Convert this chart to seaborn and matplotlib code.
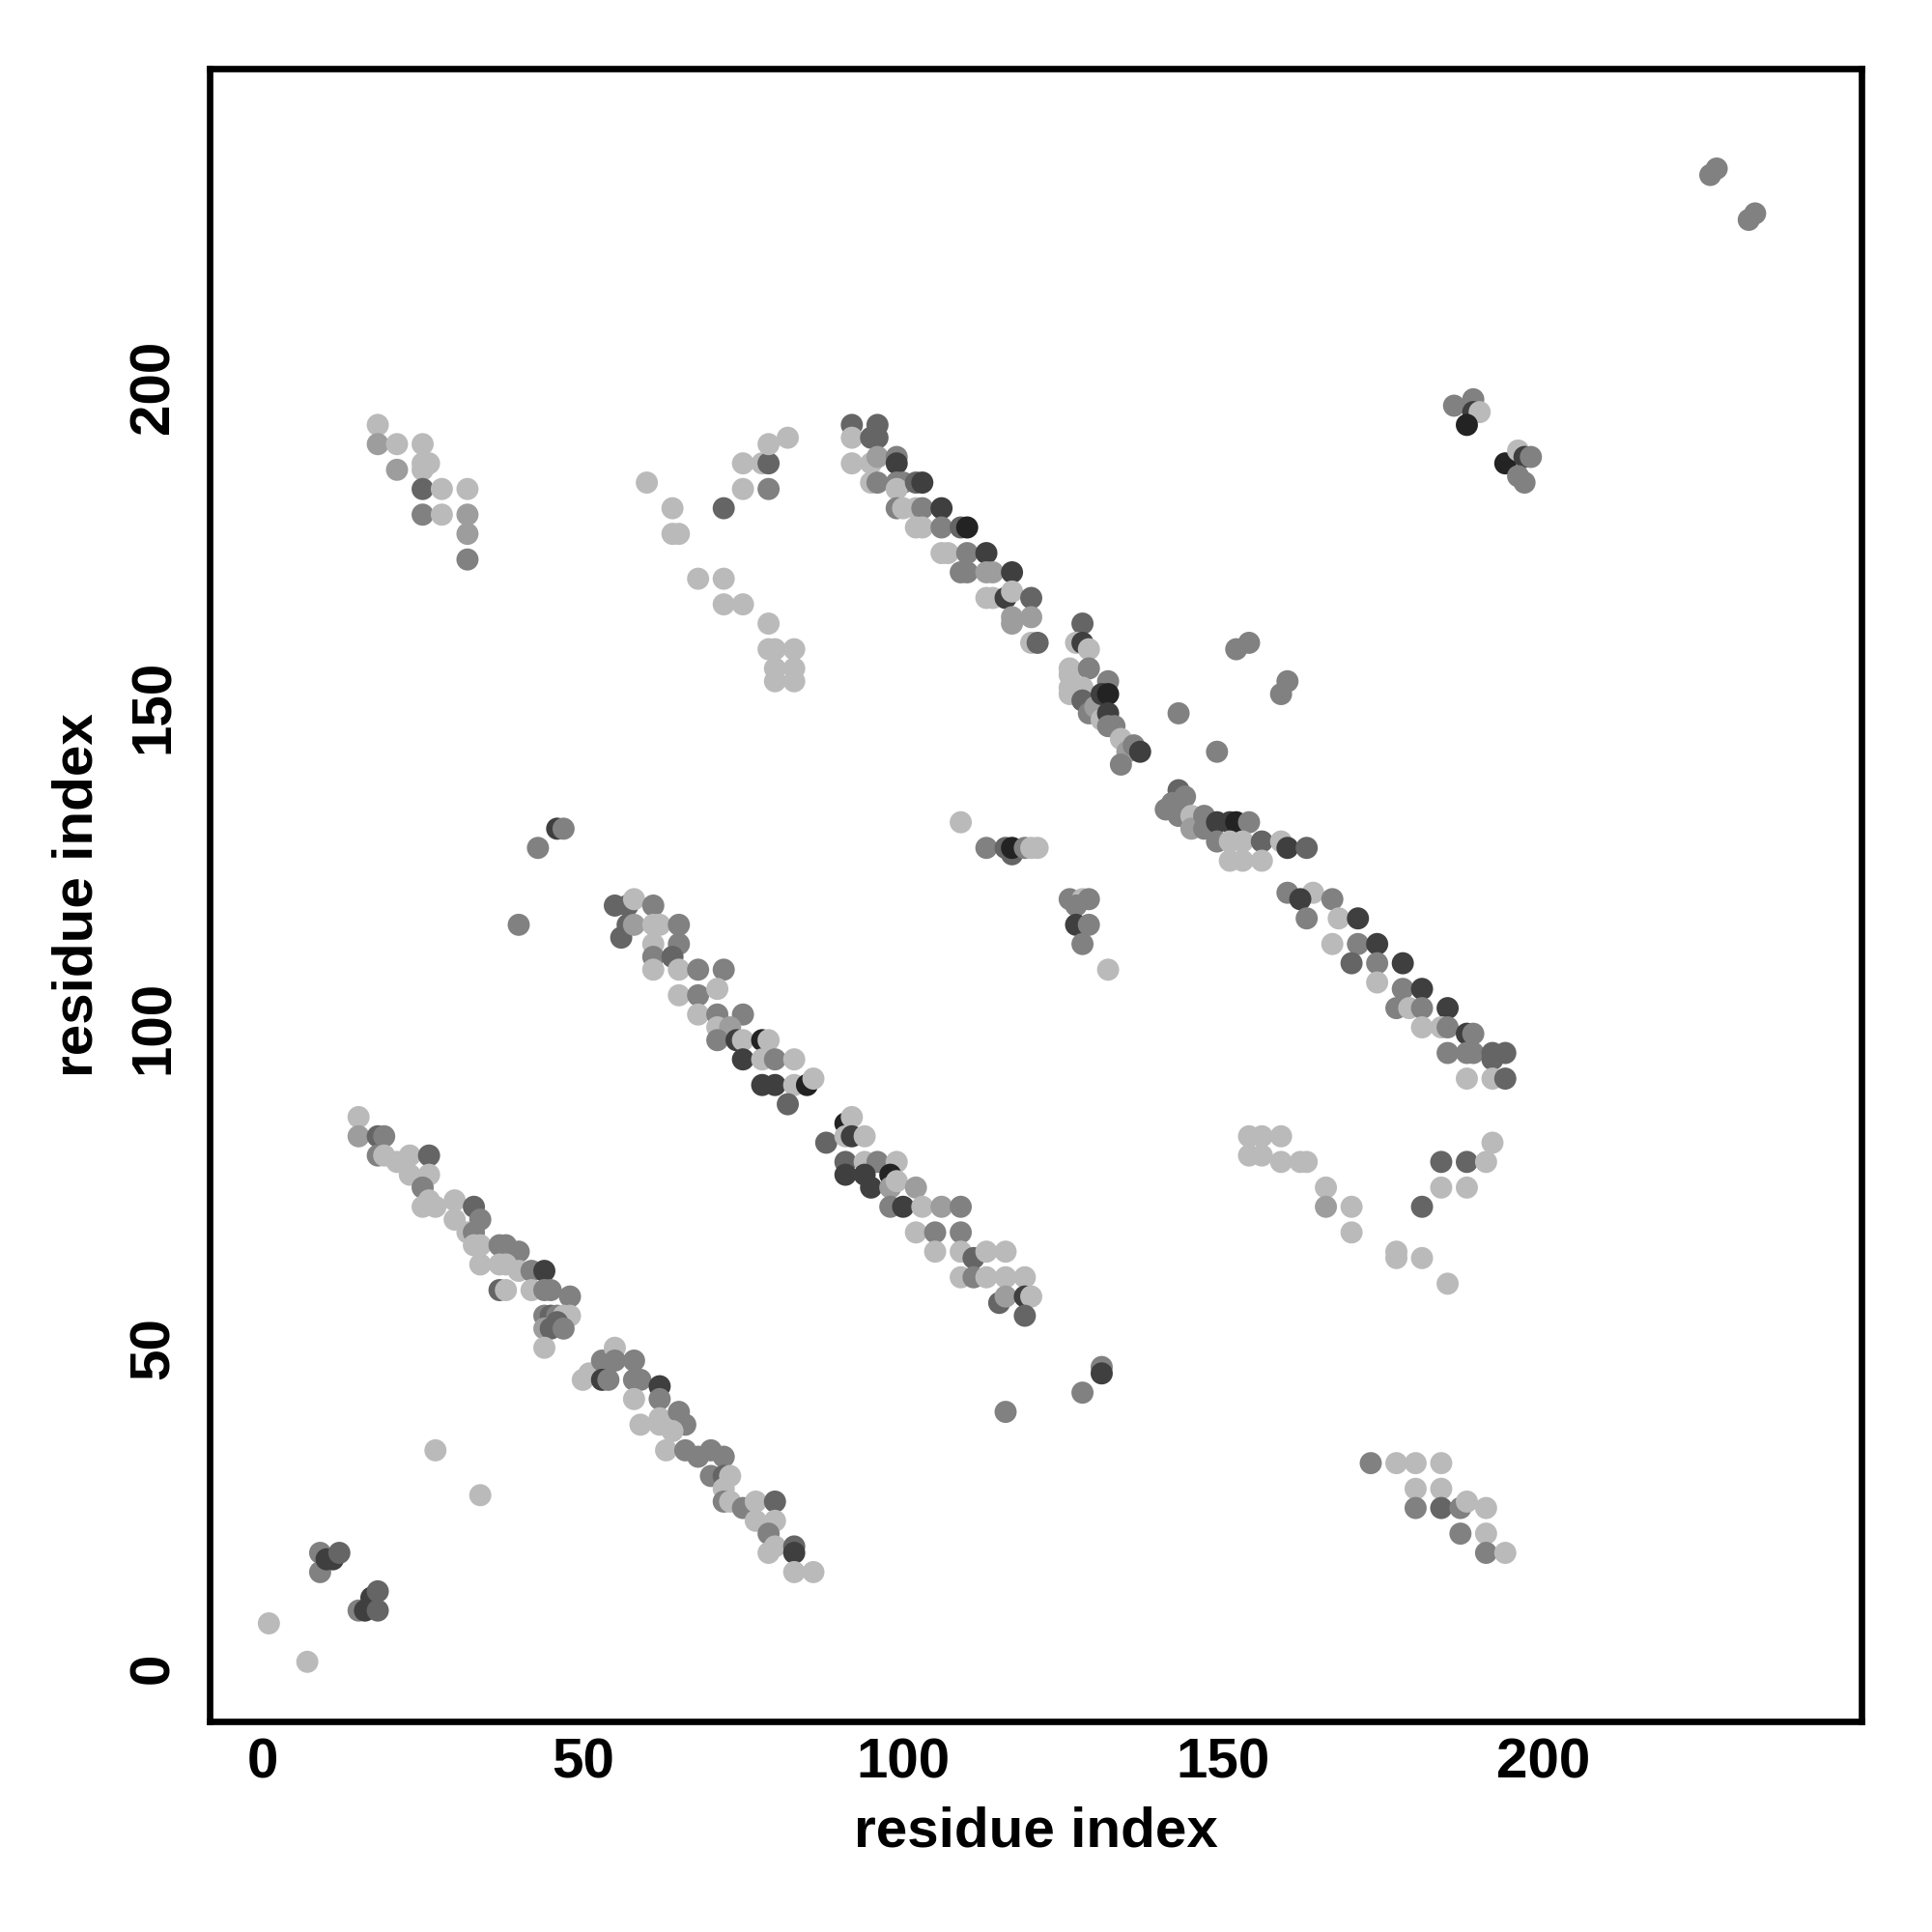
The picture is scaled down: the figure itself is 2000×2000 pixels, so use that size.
import numpy as np
import pandas as pd
import seaborn as sns
import matplotlib.pyplot as plt
from matplotlib.colors import LinearSegmentedColormap

# contact lists: (residue i, residue j, contact score)
# score 0.1 = light grey ... 0.9 = near black
near_start = [(1, 7, .1), (7, 1, .1), (9, 18, .4), (9, 15, .4), (10, 17, .75), (11, 17, .75),
              (12, 18, .55), (15, 9, .4), (16, 9, .75), (17, 11, .75), (18, 12, .55), (18, 9, .55),
              (27, 34, .1), (34, 27, .1)]

band_low = [(15, 86, .1), (15, 83, .25), (18, 83, .55), (19, 83, .4), (18, 80, .4), (19, 80, .1),
            (21, 79, .1), (23, 80, .1), (26, 80, .55), (23, 77, .1), (26, 77, .1), (25, 75, .4),
            (25, 72, .1), (26, 73, .1), (27, 72, .1), (30, 73, .1), (30, 70, .1), (33, 72, .55),
            (34, 70, .4), (32, 68, .1), (33, 68, .4), (33, 66, .1), (34, 66, .1), (34, 63, .1),
            (37, 66, .4), (38, 66, .4), (40, 65, .4), (37, 63, .1), (38, 63, .1), (40, 62, .1),
            (42, 62, .4), (44, 62, .75), (37, 59, .55), (38, 59, .1), (42, 59, .1), (44, 59, .4),
            (45, 59, .4), (48, 58, .4), (44, 55, .4), (45, 55, .55), (46, 55, .4), (47, 55, .1),
            (48, 55, .1), (44, 53, .25), (45, 53, .55), (46, 54, .55), (47, 53, .4), (44, 50, .1),
            (50, 45, .1), (51, 46, .1), (52, 46, .1), (53, 48, .4), (55, 50, .1), (53, 45, .75),
            (54, 45, .4), (55, 48, .4), (58, 48, .4), (58, 45, .4), (59, 45, .4), (62, 44, .75),
            (62, 42, .4), (62, 39, .1), (58, 42, .1), (65, 40, .4), (66, 38, .4), (59, 38, .1),
            (62, 38, .1), (64, 37, .1), (63, 34, .1), (66, 34, .4), (68, 33, .4), (70, 34, .4),
            (72, 33, .4), (70, 30, .4), (72, 30, .55), (73, 30, .1), (72, 28, .1), (72, 26, .4),
            (73, 26, .1), (75, 25, .4), (77, 26, .1), (80, 26, .55), (77, 23, .1), (80, 23, .1),
            (79, 21, .4), (79, 18, .1), (80, 19, .1), (83, 19, .55), (83, 18, .75), (83, 15, .1),
            (86, 15, .1)]

band_mid = [(55, 119, .55), (57, 119, .55), (58, 120, .1), (61, 119, .4), (56, 114, .55),
            (57, 116, .55), (58, 116, .25), (61, 116, .1), (62, 116, .1), (65, 116, .4),
            (61, 113, .1), (65, 113, .4), (61, 111, .4), (64, 111, .55), (61, 109, .1),
            (65, 109, .1), (68, 109, .4), (72, 109, .4), (65, 105, .1), (68, 105, .4),
            (71, 106, .1), (68, 102, .1), (71, 102, .4), (75, 102, .4), (71, 100, .1),
            (73, 100, .25), (71, 98, .4), (74, 98, .75), (75, 98, .1), (78, 98, .9), (79, 98, .1),
            (75, 95, .75), (78, 95, .1), (80, 95, .4), (83, 95, .1), (78, 91, .75), (80, 91, .75),
            (83, 91, .1), (85, 91, .9), (86, 92, .1), (82, 88, .55)]

band_mid2 = [(88, 82, .55), (91, 85, .9), (92, 86, .1), (91, 83, .1), (92, 83, .75), (94, 83, .1),
             (91, 79, .55), (94, 79, .1), (96, 79, .4), (99, 79, .1), (91, 77, .75), (94, 77, .75),
             (98, 77, .9), (95, 75, .75), (98, 75, .25), (99, 76, .1), (102, 75, .25), (98, 72, .4),
             (100, 72, .75), (103, 72, .1), (106, 72, .25), (109, 72, .4), (102, 68, .1),
             (105, 68, .4), (109, 68, .4), (105, 65, .1), (109, 65, .1), (111, 64, .55),
             (113, 65, .1), (116, 65, .1), (109, 61, .1), (111, 61, .4), (113, 61, .1),
             (116, 61, .1), (119, 61, .1), (115, 57, .55), (116, 58, .25), (119, 58, .75),
             (120, 58, .1), (119, 55, .55)]

band_top = [(92, 194, .55), (92, 192, .1), (96, 194, .55), (95, 192, .55), (96, 192, .55),
            (92, 188, .1), (95, 188, .1), (96, 189, .25), (99, 189, .4), (99, 188, .75),
            (95, 185, .1), (96, 185, .4), (99, 185, .4), (100, 185, .4), (99, 184, .1),
            (102, 185, .55), (103, 185, .75), (99, 181, .4), (100, 181, .1), (102, 181, .1),
            (103, 181, .4), (106, 181, .75), (102, 178, .1), (103, 178, .1), (106, 178, .4),
            (109, 178, .55), (110, 178, .9), (106, 174, .1), (107, 174, .1), (110, 174, .4),
            (113, 174, .75), (109, 171, .4), (110, 171, .4), (113, 171, .25), (114, 171, .25),
            (117, 171, .75), (113, 167, .1), (114, 167, .1), (116, 167, .75), (117, 168, .1),
            (120, 167, .55), (117, 164, .25), (120, 164, .25), (117, 163, .25), (120, 160, .1),
            (121, 160, .55), (128, 163, .55), (127, 160, .1), (128, 160, .75), (129, 159, .1),
            (126, 156, .1), (126, 155, .1), (126, 153, .1), (126, 152, .1), (129, 156, .4),
            (128, 153, .1), (128, 151, .55), (129, 149, .4), (130, 150, .25), (131, 148, .1),
            (132, 154, .4), (131, 152, .75), (132, 152, .9), (132, 149, .75), (132, 147, .4),
            (133, 147, .4), (134, 145, .1), (135, 143, .25), (134, 141, .4), (136, 144, .4),
            (137, 143, .75)]

band_right = [(141, 134, .4), (143, 137, .55), (144, 136, .4), (142, 135, .4), (143, 133, .4),
              (145, 133, .1), (145, 131, .25), (147, 133, .4), (147, 131, .4), (149, 132, .75),
              (151, 132, .75), (152, 132, .9), (154, 132, .4), (149, 129, .4), (151, 129, .1),
              (153, 129, .1), (156, 129, .55), (151, 126, .1), (153, 126, .1), (156, 126, .1),
              (159, 129, .1), (160, 128, .75), (163, 128, .55), (160, 121, .4), (164, 121, .1),
              (162, 120, .75), (167, 120, .4), (163, 117, .4), (168, 117, .1), (171, 117, .75),
              (167, 113, .1), (171, 113, .4), (174, 113, .75), (170, 110, .55), (174, 110, .4),
              (178, 110, .75), (174, 107, .1), (178, 106, .4), (181, 106, .75), (177, 103, .4),
              (179, 103, .1), (181, 103, .4), (185, 103, .75), (181, 100, .1), (184, 100, .1),
              (185, 100, .4), (188, 99, .75), (189, 99, .4), (185, 96, .4), (188, 96, .4),
              (189, 96, .4), (192, 96, .55), (194, 96, .55), (192, 95, .55), (188, 92, .1),
              (192, 92, .1), (194, 92, .55)]

upper_left = [(18, 194, .1), (18, 191, .25), (21, 191, .1), (25, 191, .1), (21, 187, .25),
              (25, 188, .1), (26, 188, .1), (25, 187, .1), (25, 184, .55), (28, 184, .1),
              (32, 184, .1), (25, 180, .4), (28, 180, .1), (32, 180, .25), (32, 177, .25),
              (32, 173, .4)]

upper_mid = [(60, 185, .1), (64, 181, .1), (64, 177, .1), (65, 177, .1), (68, 170, .1),
             (72, 170, .1), (72, 181, .55), (72, 166, .1), (75, 166, .1), (75, 188, .1),
             (75, 184, .1), (78, 188, .1), (79, 188, .55), (79, 184, .4), (79, 191, .1),
             (82, 192, .1), (79, 163, .1), (79, 159, .1), (80, 159, .1), (83, 159, .1),
             (80, 156, .1), (80, 154, .1), (83, 156, .1), (83, 154, .1)]

scattered = [(40, 116, .4), (43, 128, .4), (46, 131, .75), (47, 131, .4),
             (109, 132, .1), (113, 128, .4), (116, 128, .55), (117, 127, .55), (117, 128, .9),
             (119, 128, .4), (120, 128, .1), (121, 128, .1),
             (126, 120, .4), (128, 120, .1), (129, 120, .4), (127, 119, .4), (127, 116, .75),
             (129, 116, .4), (128, 113, .4), (132, 109, .1),
             (143, 149, .4), (149, 143, .4), (152, 159, .4), (154, 160, .4), (159, 152, .4),
             (160, 154, .4), (116, 40, .4), (128, 43, .4), (131, 47, .4), (131, 46, .75)]

top_right = [(186, 197, .4), (189, 198, .4), (189, 196, .75), (190, 196, .1), (188, 194, .9),
             (194, 188, .9), (196, 190, .1), (197, 189, .75), (198, 189, .4), (196, 186, .4),
             (197, 185, .4), (226, 233, .4), (227, 234, .4), (232, 226, .4), (233, 227, .4)]

lower_right = [(154, 83, .1), (156, 83, .1), (159, 83, .1), (154, 80, .1), (156, 80, .1),
               (159, 79, .1), (162, 79, .1), (163, 79, .1), (166, 75, .1), (166, 72, .25),
               (170, 72, .1), (170, 68, .1), (177, 65, .1), (177, 64, .1), (181, 64, .1),
               (181, 72, .55), (184, 75, .1), (184, 79, .55), (188, 79, .55), (191, 79, .1),
               (188, 75, .1), (192, 82, .1), (185, 60, .1),
               (173, 32, .4), (177, 32, .1), (180, 32, .1), (184, 32, .1), (180, 28, .1),
               (184, 28, .1), (180, 25, .4), (184, 25, .55), (187, 25, .4), (188, 26, .1),
               (191, 25, .1), (187, 21, .4), (191, 21, .1), (191, 18, .4), (194, 18, .1)]

groups = [near_start, band_low, band_mid, band_mid2, band_top, band_right,
          upper_left, upper_mid, scattered, top_right, lower_right]
df = pd.DataFrame([c for g in groups for c in g], columns=['i', 'j', 'score'])

sns.set_style('white')
plt.rcParams['font.family'] = ['Liberation Sans', 'DejaVu Sans']
plt.rcParams['font.weight'] = 'bold'
plt.rcParams['text.color'] = 'black'
plt.rcParams['axes.labelcolor'] = 'black'
plt.rcParams['xtick.color'] = 'black'
plt.rcParams['ytick.color'] = 'black'

greys = LinearSegmentedColormap.from_list('greys', ['#cccccc', '#111111'])

fig = plt.figure(figsize=(10, 10), dpi=200)
ax = fig.add_axes([0.1085, 0.109, 0.855, 0.8555])
sns.scatterplot(data=df, x='i', y='j', hue='score', palette=greys, hue_norm=(0, 1),
                s=68, linewidth=0, legend=False, ax=ax)

ax.set_xlim(-8.25, 249.6)
ax.set_ylim(-8.3, 249.6)
ax.set_xticks([0, 50, 100, 150, 200])
ax.set_yticks([0, 50, 100, 150, 200])
ax.tick_params(axis='x', length=0, pad=6, labelsize=21, labelcolor='black')
ax.tick_params(axis='y', length=0, pad=11, labelsize=21, labelcolor='black')
for lab in ax.get_yticklabels():
    lab.set_rotation(90)
    lab.set_va('center')
for lab in ax.get_xticklabels() + ax.get_yticklabels():
    lab.set_fontweight('bold')
for sp in ax.spines.values():
    sp.set_visible(True)
    sp.set_color('black')
    sp.set_linewidth(2.4)
ax.set_xlabel('residue index', fontsize=21, fontweight='bold', labelpad=6, color='black')
ax.set_ylabel('residue index', fontsize=21, fontweight='bold', labelpad=9, color='black')

fig.savefig('out.png', dpi=200, facecolor='white')
